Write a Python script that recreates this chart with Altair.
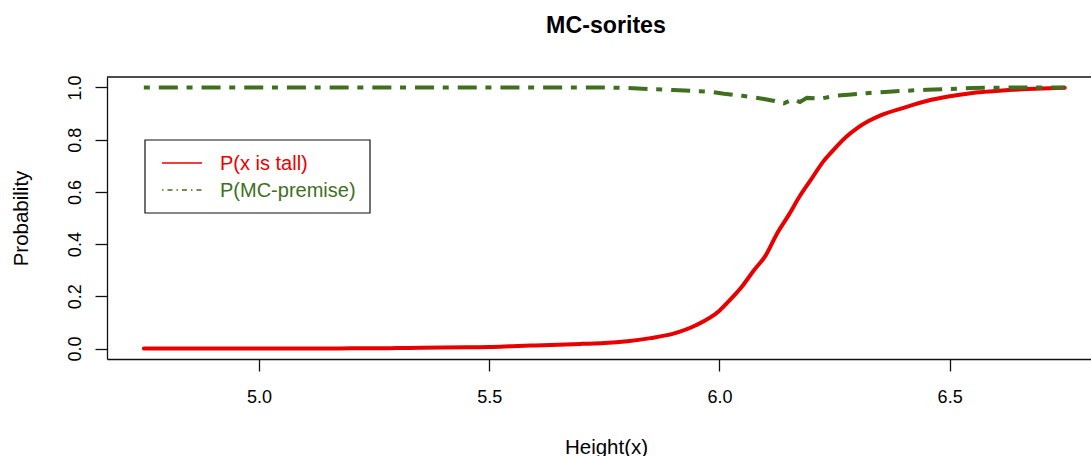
import altair as alt
import pandas as pd

title_text = "MC-sorites"
x_title = "Height(x)"
y_title = "Probability"
legend_labels = ["P(x is tall)", "P(MC-premise)"]
x_ticks = [5.0, 5.5, 6.0, 6.5]
y_ticks = [0.0, 0.2, 0.4, 0.6, 0.8, 1.0]

height_x = [4.75, 4.80, 4.85, 4.90, 4.95, 5.00, 5.05, 5.10, 5.15, 5.20,
            5.25, 5.30, 5.35, 5.40, 5.45, 5.50, 5.55, 5.60, 5.65, 5.70,
            5.75, 5.80, 5.85, 5.90, 5.95, 6.00, 6.025, 6.05, 6.075, 6.10,
            6.125, 6.15, 6.175, 6.20, 6.225, 6.25, 6.275, 6.30, 6.325, 6.35,
            6.40, 6.45, 6.50, 6.55, 6.60, 6.65, 6.70, 6.75]
p_tall = [0, 0, 0, 0, 0, 0, 0, 0, 0, 0.001,
          0.001, 0.002, 0.003, 0.004, 0.005, 0.006, 0.009, 0.012, 0.015, 0.018,
          0.021, 0.028, 0.040, 0.057, 0.090, 0.145, 0.19, 0.24, 0.30, 0.355,
          0.44, 0.51, 0.585, 0.65, 0.715, 0.765, 0.81, 0.845, 0.872, 0.893,
          0.922, 0.948, 0.966, 0.979, 0.986, 0.992, 0.996, 0.999]

mc_x = [4.75, 5.75, 5.80, 5.85, 5.90, 5.95, 5.98, 6.01, 6.05, 6.09, 6.12, 6.14,
        6.16, 6.175, 6.19, 6.22, 6.25, 6.28, 6.32, 6.36, 6.40, 6.45, 6.50, 6.55,
        6.60, 6.65, 6.75]
mc_p = [1.0, 1.0, 0.998, 0.994, 0.990, 0.986, 0.984, 0.976, 0.968, 0.958, 0.948, 0.939,
        0.955, 0.944, 0.960, 0.957, 0.968, 0.972, 0.978, 0.983, 0.987, 0.991, 0.994, 0.998,
        0.999, 1.0, 1.0]

RED = "#e80000"
GREEN = "#3f6f1f"
FONT = "Liberation Sans"

df_red = pd.DataFrame({"x": height_x, "p": p_tall})
df_green = pd.DataFrame({"x": mc_x, "p": mc_p})
one = alt.Data(values=[{"a": 1}])

xscale = alt.Scale(domain=[4.67, 6.807], nice=False, zero=False)
yscale = alt.Scale(domain=[-0.04, 1.04], nice=False, zero=False)

x_enc = alt.X("x:Q", scale=xscale,
              axis=alt.Axis(values=x_ticks, format=".1f", title=x_title,
                            labelBaseline="alphabetic", labelPadding=31,
                            titleX=499, titleY=94, titleBaseline="alphabetic",
                            titleAlign="center"))
y_enc = alt.Y("p:Q", scale=yscale,
              axis=alt.Axis(values=y_ticks, format=".1f", title=y_title,
                            labelAngle=270, labelAlign="center",
                            labelBaseline="alphabetic", labelPadding=15,
                            titleX=-80, titleY=141, titleAngle=270,
                            titleAlign="center", titleBaseline="alphabetic"))

red_line = alt.Chart(df_red).mark_line(color=RED, strokeWidth=4, strokeCap="round",
                                       strokeJoin="round", interpolate="monotone").encode(
    x=x_enc, y=y_enc)
green_line = alt.Chart(df_green).mark_line(color=GREEN, strokeWidth=4, strokeCap="butt",
                                           strokeDash=[6, 9, 19, 8.7]).encode(
    x=alt.X("x:Q", scale=xscale), y=alt.Y("p:Q", scale=yscale))

top_border = alt.Chart(one).mark_rule(color="#111", strokeWidth=1.3).encode(
    x=alt.value(0), x2=alt.value(984), y=alt.value(0))

legend_box = alt.Chart(one).mark_rect(fill="white", stroke="#111", strokeWidth=1.2).encode(
    x=alt.value(38), x2=alt.value(263), y=alt.value(63), y2=alt.value(136))
leg_red = alt.Chart(one).mark_rule(color=RED, strokeWidth=1.5).encode(
    x=alt.value(55), x2=alt.value(95), y=alt.value(86))
leg_green = alt.Chart(one).mark_rule(color=GREEN, strokeWidth=1.3, strokeDash=[1.5, 4, 5, 4]).encode(
    x=alt.value(55), x2=alt.value(95), y=alt.value(113))
leg_t1 = alt.Chart(one).mark_text(text=legend_labels[0], color=RED, font=FONT, fontSize=20,
                                  align="left", baseline="middle").encode(
    x=alt.value(113), y=alt.value(87))
leg_t2 = alt.Chart(one).mark_text(text=legend_labels[1], color=GREEN, font=FONT, fontSize=20,
                                  align="left", baseline="middle").encode(
    x=alt.value(113), y=alt.value(114))

title = alt.Chart(one).mark_text(text=title_text, font=FONT, fontSize=23.2, fontWeight="bold",
                                 color="black", align="center", baseline="alphabetic").encode(
    x=alt.value(499), y=alt.value(-44))

chart = alt.layer(red_line, green_line, top_border, legend_box, leg_red, leg_green,
                  leg_t1, leg_t2, title).properties(
    width=984, height=282,
    autosize=alt.AutoSizeParams(type="none"),
    padding={"left": 107, "top": 77, "right": 0, "bottom": 97},
    background="white",
).configure_view(stroke=None).configure_axis(
    grid=False, tickSize=12, tickColor="#111", tickWidth=1.3,
    domainColor="#111", domainWidth=1.3,
    labelFont=FONT, labelFontSize=18, labelColor="black",
    titleFont=FONT, titleFontSize=20.5, titleFontWeight="normal", titleColor="black",
)

chart.save("out.html", embed_options={"renderer": "svg", "actions": False})
